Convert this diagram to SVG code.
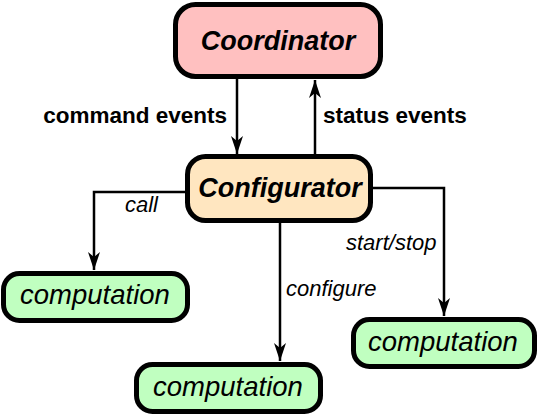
<svg xmlns="http://www.w3.org/2000/svg" width="539" height="415" viewBox="0 0 539 415">
<style>
.box{stroke:#000;stroke-width:5}
.title{font-family:"Liberation Sans",Arial,sans-serif;font-weight:bold;font-style:italic;font-size:27px;text-anchor:middle;fill:#000}
.comp{font-family:"Liberation Sans",Arial,sans-serif;font-style:italic;font-size:27.5px;text-anchor:middle;fill:#000}
.lbl{font-family:"Liberation Sans",Arial,sans-serif;font-weight:bold;font-size:22.5px;fill:#000}
.ilbl{font-family:"Liberation Sans",Arial,sans-serif;font-style:italic;font-size:22px;fill:#000}
.conn{fill:none;stroke:#000;stroke-width:2.5}
</style>
<defs>
<marker id="arr" markerUnits="userSpaceOnUse" viewBox="-20 -8 22 16" refX="0" refY="0" markerWidth="22" markerHeight="16" orient="auto">
<path d="M0,0 L-18,-6 L-13,0 L-18,6 Z" fill="#000"/>
</marker>
</defs>
<rect width="539" height="415" fill="#fff"/>
<g id="connectors">
<path class="conn" d="M237,79 V154" marker-end="url(#arr)"/>
<path class="conn" d="M315,155 V80" marker-end="url(#arr)"/>
<path class="conn" d="M186,192 H94 V270" marker-end="url(#arr)"/>
<path class="conn" d="M280,222 V361" marker-end="url(#arr)"/>
<path class="conn" d="M372,188 H444 V316" marker-end="url(#arr)"/>
<text class="lbl" x="227" y="123" text-anchor="end">command events</text>
<text class="lbl" x="323" y="123">status events</text>
<text class="ilbl" x="125" y="212">call</text>
<text class="ilbl" x="286" y="296">configure</text>
<text class="ilbl" x="346" y="250">start/stop</text>
</g>
<g id="coordinator">
<rect class="box" x="175.5" y="4.5" width="205" height="72" rx="20" fill="#ffc0c0"/>
<text class="title" x="278" y="50">Coordinator</text>
</g>
<g id="configurator">
<rect class="box" x="187.5" y="156.5" width="183" height="64" rx="18" fill="#ffe6c0"/>
<text class="title" x="280" y="197">Configurator</text>
</g>
<g id="computation1">
<rect class="box" x="3.5" y="273.5" width="184" height="47" rx="16" fill="#c0ffc0"/>
<text class="comp" x="95" y="304">computation</text>
</g>
<g id="computation2">
<rect class="box" x="136.5" y="364.5" width="184" height="47" rx="16" fill="#c0ffc0"/>
<text class="comp" x="228" y="396">computation</text>
</g>
<g id="computation3">
<rect class="box" x="353.5" y="319.5" width="181" height="47" rx="16" fill="#c0ffc0"/>
<text class="comp" x="443" y="351">computation</text>
</g>
</svg>
